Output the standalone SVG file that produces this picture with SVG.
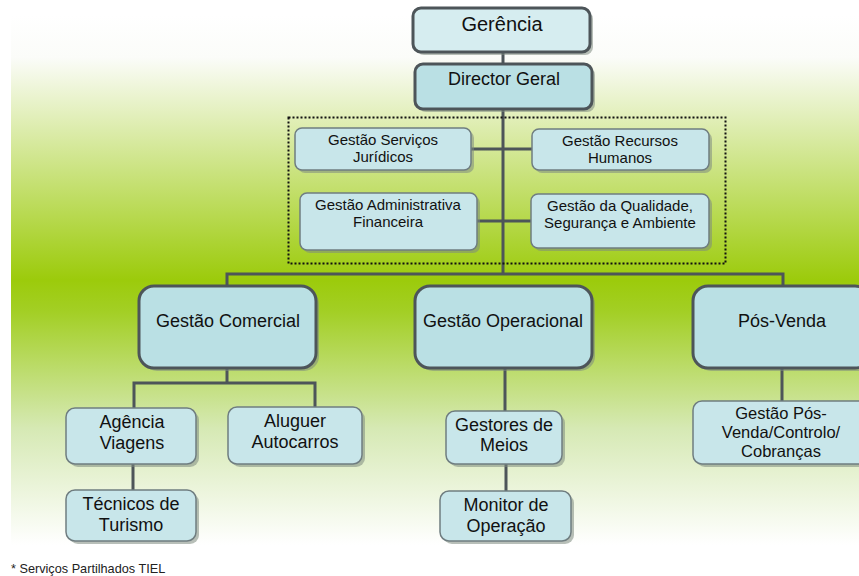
<svg xmlns="http://www.w3.org/2000/svg" width="859" height="576" viewBox="0 0 859 576">
  <defs>
    <linearGradient id="bg" x1="0" y1="0" x2="0" y2="1">
      <stop offset="0" stop-color="#ffffff"/>
      <stop offset="0.08" stop-color="#fbfcf9"/>
      <stop offset="0.5" stop-color="#9ccb0b"/>
      <stop offset="0.56" stop-color="#a3cf25"/>
      <stop offset="0.78" stop-color="#d6e9b4"/>
      <stop offset="1" stop-color="#ffffff"/>
    </linearGradient>
    <style>
      .shadow { fill: #7d8a80; opacity: 0.55; }
      .big { fill: #bae0e4; stroke: #4d5559; stroke-width: 3; }
      .top { fill: #d6edf0; stroke: #4d5559; stroke-width: 3; }
      .small { fill: #c8e6ea; stroke: #6f7d80; stroke-width: 1.5; }
      .wire { fill: none; stroke: #4d5559; stroke-width: 3; }
      .t { font-family: "Liberation Sans", Arial, sans-serif; fill: #111; text-anchor: middle; }
      .t20 { font-size: 20px; }
      .t18 { font-size: 18px; }
      .t15 { font-size: 15px; }
      .t16 { font-size: 16.5px; }
    </style>
  </defs>

  <!-- background band -->
  <rect x="0" y="0" width="859" height="576" fill="#ffffff"/>
  <rect x="11" y="15" width="848" height="530" fill="url(#bg)"/>

  <!-- connectors -->
  <g id="connectors">
    <path class="wire" d="M503 52 V274"/>
    <path class="wire" d="M471 149 H532"/>
    <path class="wire" d="M477 221 H531"/>
    <path class="wire" d="M227 287 V274 H783 V287"/>
    <path class="wire" d="M227 368 V383"/>
    <path class="wire" d="M134 408 V383 H315 V407"/>
    <path class="wire" d="M133 464 V490"/>
    <path class="wire" d="M505 368 V411"/>
    <path class="wire" d="M506 464 V491"/>
    <path class="wire" d="M782 368 V401"/>
  </g>

  <!-- shared services frame -->
  <rect id="shared-services" x="288.5" y="117.5" width="437" height="146" fill="none" stroke="#111" stroke-width="2" stroke-dasharray="2 2"/>

  <g id="gerencia">
    <rect class="shadow" x="416" y="11" width="177" height="44" rx="8"/>
    <rect class="top" x="413" y="8" width="177" height="44" rx="8"/>
    <text class="t t20" x="502" y="31">Gerência</text>
  </g>

  <g id="director-geral">
    <rect class="shadow" x="418" y="67" width="177" height="45" rx="8"/>
    <rect class="big" x="415" y="64" width="177" height="45" rx="8"/>
    <text class="t t18" x="504" y="85">Director Geral</text>
  </g>

  <g id="servicos-juridicos">
    <rect class="shadow" x="298" y="131" width="176" height="42" rx="7"/>
    <rect class="small" x="295" y="128" width="176" height="42" rx="7"/>
    <text class="t t15" x="383" y="145">Gestão Serviços</text>
    <text class="t t15" x="383" y="162">Jurídicos</text>
  </g>

  <g id="recursos-humanos">
    <rect class="shadow" x="535" y="132" width="177" height="41" rx="7"/>
    <rect class="small" x="532" y="129" width="177" height="41" rx="7"/>
    <text class="t t15" x="620" y="146">Gestão Recursos</text>
    <text class="t t15" x="620" y="163">Humanos</text>
  </g>

  <g id="administrativa-financeira">
    <rect class="shadow" x="303" y="196" width="177" height="57" rx="7"/>
    <rect class="small" x="300" y="193" width="177" height="57" rx="7"/>
    <text class="t t15" x="388" y="210">Gestão Administrativa</text>
    <text class="t t15" x="388" y="227">Financeira</text>
  </g>

  <g id="qualidade">
    <rect class="shadow" x="534" y="197" width="178" height="54" rx="7"/>
    <rect class="small" x="531" y="194" width="178" height="54" rx="7"/>
    <text class="t t15" x="620" y="211">Gestão da Qualidade,</text>
    <text class="t t15" x="620" y="228">Segurança e Ambiente</text>
  </g>

  <g id="gestao-comercial">
    <rect class="shadow" x="142" y="289" width="177" height="82" rx="15"/>
    <rect class="big" x="139" y="286" width="177" height="82" rx="15"/>
    <text class="t t18" x="228" y="327">Gestão Comercial</text>
  </g>

  <g id="gestao-operacional">
    <rect class="shadow" x="418" y="289" width="177" height="82" rx="15"/>
    <rect class="big" x="415" y="286" width="177" height="82" rx="15"/>
    <text class="t t18" x="503" y="327">Gestão Operacional</text>
  </g>

  <g id="pos-venda">
    <rect class="shadow" x="696" y="289" width="177" height="82" rx="15"/>
    <rect class="big" x="693" y="286" width="177" height="82" rx="15"/>
    <text class="t t18" x="782" y="327">Pós-Venda</text>
  </g>

  <g id="agencia-viagens">
    <rect class="shadow" x="69" y="411" width="130" height="56" rx="9"/>
    <rect class="small" x="66" y="408" width="130" height="56" rx="9"/>
    <text class="t t18" x="132" y="428">Agência</text>
    <text class="t t18" x="132" y="449">Viagens</text>
  </g>

  <g id="aluguer-autocarros">
    <rect class="shadow" x="231" y="410" width="134" height="57" rx="9"/>
    <rect class="small" x="228" y="407" width="134" height="57" rx="9"/>
    <text class="t t18" x="295" y="427">Aluguer</text>
    <text class="t t18" x="295" y="448">Autocarros</text>
  </g>

  <g id="tecnicos-turismo">
    <rect class="shadow" x="69" y="493" width="130" height="51" rx="9"/>
    <rect class="small" x="66" y="490" width="130" height="51" rx="9"/>
    <text class="t t18" x="131" y="510">Técnicos de</text>
    <text class="t t18" x="131" y="531">Turismo</text>
  </g>

  <g id="gestores-meios">
    <rect class="shadow" x="449" y="414" width="116" height="53" rx="9"/>
    <rect class="small" x="446" y="411" width="116" height="53" rx="9"/>
    <text class="t t18" x="504" y="431">Gestores de</text>
    <text class="t t18" x="504" y="451">Meios</text>
  </g>

  <g id="monitor-operacao">
    <rect class="shadow" x="443" y="494" width="131" height="50" rx="9"/>
    <rect class="small" x="440" y="491" width="131" height="50" rx="9"/>
    <text class="t t18" x="506" y="511">Monitor de</text>
    <text class="t t18" x="506" y="532">Operação</text>
  </g>

  <g id="gestao-pos-venda">
    <rect class="shadow" x="696" y="404" width="177" height="63" rx="9"/>
    <rect class="small" x="693" y="401" width="177" height="63" rx="9"/>
    <text class="t t16" x="781" y="419">Gestão Pós-</text>
    <text class="t t16" x="781" y="438">Venda/Controlo/</text>
    <text class="t t16" x="781" y="457">Cobranças</text>
  </g>

  <text x="11" y="573" font-family="Liberation Sans, Arial, sans-serif" font-size="12.7" fill="#222">* Serviços Partilhados TIEL</text>
</svg>
